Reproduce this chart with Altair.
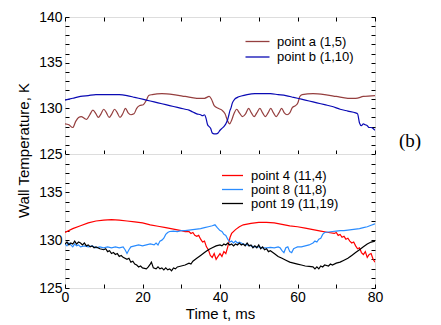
import altair as alt
import pandas as pd

# ---------------- data ----------------
# top panel: point a (1,5)
a_t = [0, 1, 2, 2.8, 3.5, 4.2, 5, 5.6, 6.4, 7.2, 8, 8.6, 9.3, 10, 10.7, 11.4, 12.1, 12.8,
       13.5, 14.2, 14.9, 15.6, 16.3, 17, 17.8, 18.5, 19.3, 20.2, 21, 21.6, 22.5, 25, 28, 31,
       34, 36, 37.2, 37.8, 38.5, 39.5, 40.5, 41.3, 42, 42.5, 43, 43.6, 44.3, 45, 45.8, 46.6,
       47.4, 48.1, 48.8, 49.5, 50.3, 51, 51.7, 52.4, 53.1, 53.8, 54.5, 55.2, 55.9, 56.6, 57.3,
       58, 58.7, 59.5, 60.1, 60.6, 61.2, 64, 67, 70, 73, 75, 77, 80]
a_v = [128.3, 128.2, 127.9, 128.6, 129.0, 129.1, 128.9, 128.8, 129.3, 129.8, 129.4, 129.0,
       129.4, 129.9, 129.5, 129.0, 129.4, 129.9, 129.5, 129.0, 129.4, 130.0, 129.5, 129.3,
       129.4, 130.0, 130.3, 130.4, 130.9, 131.4, 131.5, 131.6, 131.5, 131.3, 131.1, 131.1,
       131.3, 131.0, 130.3, 130.0, 129.8, 129.4, 128.6, 128.3, 128.7, 129.4, 129.9, 129.5,
       129.1, 129.4, 130.0, 129.5, 129.1, 129.5, 130.0, 129.5, 129.1, 129.5, 130.0, 129.5,
       129.1, 129.5, 130.0, 129.5, 129.3, 129.5, 130.1, 130.3, 130.6, 131.3, 131.5, 131.6,
       131.5, 131.3, 131.1, 131.1, 131.3, 131.4]

# top panel: point b (1,10)
b_t = [0, 2, 4, 6, 8, 10, 12, 14, 16, 18, 20, 22, 24, 26, 28, 30, 31, 32, 33, 34, 35, 35.5,
       36, 36.4, 36.8, 37.2, 37.6, 38, 38.5, 39, 39.5, 40, 40.5, 41, 41.5, 42, 42.3, 42.6,
       42.8, 43.2, 43.8, 44.5, 45.5, 47, 49, 51, 53, 55, 57, 59, 61, 63, 65, 67, 69, 71, 73,
       75, 75.5, 76, 76.5, 77, 77.5, 78, 78.5, 79, 79.5, 80]
b_v = [130.9, 131.1, 131.3, 131.4, 131.5, 131.5, 131.5, 131.5, 131.4, 131.2, 131.0, 130.8,
       130.6, 130.4, 130.2, 130.0, 129.9, 129.8, 129.6, 129.4, 129.3, 129.2, 129.3, 128.9,
       128.2, 128.0, 127.8, 127.3, 127.2, 127.2, 127.3, 127.6, 127.8, 128.0, 128.3, 128.8,
       129.3, 129.8, 130.0, 130.6, 131.0, 131.2, 131.35, 131.5, 131.6, 131.6, 131.6, 131.5,
       131.4, 131.2, 131.0, 130.8, 130.6, 130.4, 130.2, 129.9, 129.7, 129.5, 129.4, 128.4,
       128.1, 128.3, 128.2, 128.1, 127.9, 127.9, 127.8, 127.6]

# bottom panel: point 4 (11,4)
p4_t = [0, 2, 4, 6, 8, 10, 12, 14, 16, 18, 20, 22, 24, 26, 28, 30, 31, 32, 32.5, 33, 33.5,
        34, 34.5, 35, 35.5, 36, 36.5, 37, 37.5, 38, 38.5, 39, 39.5, 40, 40.5, 41, 41.5, 42,
        42.3, 42.6, 43, 44, 45, 46, 48, 50, 52, 54, 56, 58, 60, 62, 64, 66, 68, 69.5, 70,
        70.5, 71, 71.5, 72, 72.5, 73, 73.5, 74, 74.5, 75, 75.5, 76, 76.5, 77, 77.5, 78, 78.5,
        79, 79.5, 80]
p4_v = [130.8, 131.2, 131.5, 131.8, 132.0, 132.1, 132.15, 132.1, 132.0, 131.9, 131.8, 131.6,
        131.45, 131.3, 131.15, 131.0, 130.9, 130.9, 130.7, 130.8, 130.5, 130.4, 130.5, 130.1,
        129.8, 129.9, 129.3, 129.0, 128.4, 128.2, 128.6, 128.0, 128.3, 128.6, 128.3, 128.8,
        128.6, 129.3, 129.8, 130.3, 130.7, 131.1, 131.4, 131.6, 131.75, 131.85, 131.85, 131.8,
        131.65, 131.5, 131.4, 131.25, 131.1, 130.95, 130.8, 130.7, 130.8, 130.5, 130.6, 130.3,
        130.4, 130.1, 130.2, 129.9, 129.7, 129.8, 129.4, 129.1, 129.2, 128.7, 128.5, 128.8,
        128.2, 128.5, 128.6, 128.0, 127.7]

# bottom panel: point 8 (11,8)
p8_t = [0, 0.5, 1, 1.5, 2, 2.5, 3, 3.5, 4, 5, 6, 7, 8, 9, 10, 11, 12, 13, 14, 15, 15.5, 16,
        16.5, 17, 18, 19, 20, 21, 22, 23, 23.5, 24, 24.5, 25, 25.5, 26, 26.5, 27, 28, 29, 30,
        31, 32, 33, 34, 35, 36, 37, 38, 38.7, 39.3, 40, 40.5, 41, 41.5, 42, 42.5, 43, 43.5,
        44, 44.5, 45, 46, 47, 48, 49, 50, 51, 52, 53, 54, 55, 55.5, 56, 56.5, 57, 57.5, 58,
        58.5, 59, 59.5, 60, 61, 62, 63, 64, 64.5, 65, 65.5, 66, 66.5, 67, 68, 69, 70, 71, 72,
        73, 74, 75, 76, 77, 78, 79, 80]
p8_v = [129.6, 129.4, 129.7, 129.5, 129.3, 129.6, 129.4, 129.5, 129.3, 129.4, 129.3, 129.4,
        129.2, 129.3, 129.2, 129.3, 129.2, 129.3, 129.2, 129.3, 129.0, 128.6, 129.0, 129.3,
        129.4, 129.5, 129.4, 129.5, 129.6, 129.5, 129.7, 129.5, 129.9, 130.0, 130.2, 130.6,
        130.8, 130.9, 130.95, 130.9, 131.0, 131.0, 131.05, 131.1, 131.15, 131.2, 131.3, 131.4,
        131.5, 131.6, 131.3, 131.0, 130.9, 130.6, 130.5, 130.1, 129.8, 129.9, 129.7, 129.9,
        129.7, 129.8, 129.6, 129.5, 129.4, 129.3, 129.3, 129.2, 129.2, 129.25, 129.2, 129.3,
        129.2, 128.9, 128.7, 129.2, 129.3, 128.8, 128.7, 129.1, 129.2, 129.3, 129.3, 129.4,
        129.5, 129.7, 129.9, 129.8, 130.1, 130.2, 130.6, 130.8, 130.85, 130.9, 130.95, 131.0,
        131.0, 131.05, 131.1, 131.15, 131.2, 131.3, 131.4, 131.55, 131.7]

# bottom panel: pont 19 (11,19)
p19_t = [0, 0.5, 1, 1.5, 2, 2.5, 3, 3.5, 4, 4.5, 5, 5.5, 6, 6.5, 7, 7.5, 8, 9, 10, 10.5, 11,
         11.5, 12, 12.5, 13, 13.5, 14, 14.5, 15, 16, 16.5, 17, 17.5, 18, 18.5, 19, 19.5, 20,
         21, 21.5, 22, 22.3, 22.8, 23.5, 24, 24.5, 25, 25.5, 26, 26.5, 27, 27.5, 28, 28.5,
         29, 30, 31, 32, 32.5, 33, 34, 35, 36, 37, 38, 39, 40, 40.5, 41, 41.5, 42, 42.5, 43,
         43.5, 44, 44.5, 45, 45.5, 46, 46.5, 47, 47.5, 48, 48.5, 49, 49.5, 50, 50.5, 51, 51.5,
         52, 52.5, 53, 54, 55, 56, 57, 58, 59, 60, 61, 62, 63, 64, 64.5, 65, 65.5, 66, 66.5,
         67, 68, 68.5, 69, 70, 71, 72, 73, 74, 75, 76, 77, 78, 79, 80]
p19_v = [129.6, 129.8, 129.5, 129.7, 129.6, 129.9, 129.6, 129.8, 129.7, 129.5, 129.7, 129.4,
         129.5, 129.3, 129.4, 129.2, 129.3, 129.1, 129.0, 129.1, 128.8, 128.9, 128.6, 128.7,
         128.5, 128.6, 128.3, 128.4, 128.2, 128.0, 128.1, 127.7, 127.8, 127.5, 127.4, 127.2,
         127.3, 127.1, 127.0, 127.2, 127.5, 127.7, 127.1, 127.0, 127.2, 127.0, 127.1, 126.9,
         127.1, 126.9, 127.0, 126.8, 127.1, 127.0, 127.2, 127.3, 127.4, 127.6, 127.5, 127.8,
         128.1, 128.4, 128.7, 129.0, 129.2, 129.4, 129.5, 129.4, 129.6, 129.5, 129.7, 129.5,
         129.6, 129.4, 129.6, 129.5, 129.7, 129.5, 129.6, 129.4, 129.7, 129.4, 129.5, 129.2,
         129.4, 129.2, 129.5, 129.1, 129.3, 129.0, 129.1, 128.8, 128.9, 128.6, 128.3, 128.1,
         127.9, 127.7, 127.6, 127.5, 127.4, 127.3, 127.25, 127.2, 127.0, 127.2, 127.0, 127.3,
         127.2, 127.4, 127.3, 127.5, 127.4, 127.6, 127.7, 127.9, 128.1, 128.4, 128.7, 129.0,
         129.3, 129.6, 129.8, 129.9]

top_names = ["point a (1,5)", "point b (1,10)"]
top_colors = ["#953f3f", "#0a0ab4"]
bot_names = ["point 4 (11,4)", "point 8 (11,8)", "pont 19 (11,19)"]
bot_colors = ["#ff0000", "#2a8cff", "#000000"]

x_ticks = list(range(0, 81, 10))
top_y_ticks = list(range(125, 141))
bot_y_ticks = list(range(125, 140))


def frame(series):
    rows = []
    for name, ts, vs in series:
        for t, v in zip(ts, vs):
            rows.append({"series": name, "t": t, "T": v})
    return pd.DataFrame(rows)


top_df = frame([(top_names[0], a_t, a_v), (top_names[1], b_t, b_v)])
bot_df = frame([(bot_names[0], p4_t, p4_v), (bot_names[1], p8_t, p8_v),
                (bot_names[2], p19_t, p19_v)])

W = 310
TICK = 4
FONT = "Liberation Sans"


def xaxis(orient, labels, title=None):
    kw = dict(orient=orient, values=x_ticks, tickSize=TICK, offset=-TICK, domain=False,
              grid=False, tickColor="black", labels=labels, title=title)
    if labels:
        kw.update(labelExpr="datum.value % 20 === 0 ? datum.label : ''", labelFontSize=14,
                  labelPadding=2, labelFlush=False, labelOverlap=False, labelColor="black",
                  labelFont=FONT)
    if title:
        kw.update(titleFontSize=15, titleFontWeight="normal", titleColor="black",
                  titleFont=FONT, titlePadding=2)
    return alt.Axis(**kw)


def yaxis(orient, values, labels, title=None):
    kw = dict(orient=orient, values=values, tickSize=TICK, offset=-TICK, domain=False,
              grid=False, tickColor="black", labels=labels, title=title)
    if labels:
        kw.update(labelExpr="datum.value % 5 === 0 ? datum.label : ''", labelFontSize=14,
                  labelPadding=3, labelFlush=False, labelOverlap=False, labelColor="black",
                  labelFont=FONT)
    if title:
        kw.update(titleFontSize=15, titleFontWeight="normal", titleColor="black",
                  titleFont=FONT, titleX=-46, titleY=133, titleAngle=-90,
                  titleAlign="center", titleBaseline="middle")
    return alt.Axis(**kw)


def panel(df, names, colors, ydom, yvals, height, bottom, legend):
    xs = alt.Scale(domain=[0, 80], nice=False, zero=False)
    ys = alt.Scale(domain=ydom, nice=False, zero=False)
    lines = alt.Chart(df).mark_line(
        strokeWidth=1.2, clip=True, interpolate="linear" if bottom else "monotone"
    ).encode(
        x=alt.X("t:Q", scale=xs,
                axis=xaxis("bottom", bottom, "Time t, ms" if bottom else None)),
        y=alt.Y("T:Q", scale=ys,
                axis=yaxis("left", yvals, True, None if bottom else "Wall Temperature, K")),
        color=alt.Color("series:N", scale=alt.Scale(domain=names, range=colors),
                        legend=legend),
    )
    mirror = alt.Chart(df).mark_line(opacity=0).encode(
        x=alt.X("t:Q", scale=xs, axis=None if bottom else xaxis("top", False)),
        y=alt.Y("T:Q", scale=ys, axis=yaxis("right", yvals, False)),
        detail="series:N",
    )
    layers = [lines, mirror]
    if not bottom:
        lab = alt.Chart(pd.DataFrame({"label": ["(b)"]})).mark_text(
            font="Liberation Serif", fontSize=19, align="center", baseline="middle",
            color="black"
        ).encode(x=alt.value(W + 35), y=alt.value(124), text="label:N")
        layers.append(lab)
    return alt.layer(*layers).resolve_axis(x="independent", y="independent").properties(
        width=W, height=height)


top_legend = alt.Legend(orient="none", legendX=186, legendY=18, title=None,
                        symbolType="M-4,0H4", symbolSize=36, symbolStrokeWidth=1.3,
                        labelFontSize=13, labelOffset=13, rowPadding=1.5, padding=0,
                        labelFont=FONT, labelColor="black")
bot_legend = alt.Legend(orient="none", legendX=161, legendY=15, title=None,
                        symbolType="M-3.5,0H3.5", symbolSize=36, symbolStrokeWidth=1.3,
                        labelFontSize=13, labelOffset=12, rowPadding=0, padding=0,
                        labelFont=FONT, labelColor="black")

top = panel(top_df, top_names, top_colors, [125, 140], top_y_ticks, 137, False, top_legend)
bot = panel(bot_df, bot_names, bot_colors, [125, 139], bot_y_ticks, 134, True, bot_legend)

chart = alt.vconcat(top, bot, spacing=0, bounds="flush").resolve_scale(
    color="independent"
).properties(
    padding={"left": 7, "top": 1, "right": 0, "bottom": 0}
).configure_view(stroke="black", strokeWidth=1).configure(font=FONT, background="white")

chart.save("out.html", embed_options={"renderer": "svg", "actions": False})
